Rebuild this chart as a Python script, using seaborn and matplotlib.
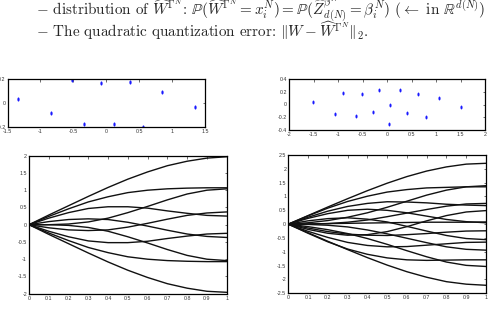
import matplotlib
matplotlib.use("Agg")
import matplotlib.pyplot as plt
import numpy as np
import pandas as pd
import seaborn as sns

# time grid of the paths
t_grid = [0.0, 0.1, 0.2, 0.3, 0.4, 0.5, 0.6, 0.7, 0.8, 0.9, 1.0]

# 10-point quantizer (top left)
quant10_x = [-1.34, -0.834, -0.524, -0.337, -0.079, 0.114, 0.362, 0.564, 0.853, 1.354]
quant10_y = [0.032, -0.079, 0.192, -0.175, 0.167, -0.17, 0.172, -0.195, 0.092, -0.035]

# 15-point quantizer (top right)
quant15_x = [-1.52, -1.065, -0.908, -0.636, -0.507, -0.288, -0.16, 0.053, 0.039,
             0.27, 0.40, 0.64, 0.796, 1.055, 1.517]
quant15_y = [0.039, -0.154, 0.175, -0.18, 0.16, -0.122, 0.235, 0.0, -0.306,
             0.232, -0.133, 0.165, -0.19, 0.102, -0.04]

# paths
paths10 = [
    [0, -0.28, -0.55, -0.82, -1.08, -1.32, -1.53, -1.71, -1.84, -1.93, -1.96],
    [0, -0.24, -0.46, -0.66, -0.81, -0.93, -1.00, -1.04, -1.06, -1.07, -1.07],
    [0, 0.00, -0.02, -0.08, -0.19, -0.35, -0.53, -0.72, -0.89, -1.00, -1.04],
    [0, -0.19, -0.35, -0.47, -0.52, -0.52, -0.48, -0.40, -0.33, -0.27, -0.25],
    [0, 0.09, 0.15, 0.17, 0.15, 0.07, -0.04, -0.16, -0.27, -0.34, -0.37],
    [0, -0.09, -0.15, -0.17, -0.15, -0.07, 0.04, 0.16, 0.27, 0.34, 0.37],
    [0, 0.19, 0.35, 0.47, 0.52, 0.52, 0.48, 0.40, 0.33, 0.27, 0.25],
    [0, 0.00, 0.02, 0.08, 0.19, 0.35, 0.53, 0.72, 0.89, 1.00, 1.04],
    [0, 0.24, 0.46, 0.66, 0.81, 0.93, 1.00, 1.04, 1.06, 1.07, 1.07],
    [0, 0.28, 0.55, 0.82, 1.08, 1.32, 1.53, 1.71, 1.84, 1.93, 1.97],
]

# paths
paths15 = [
    [0, -0.31, -0.62, -0.92, -1.21, -1.48, -1.72, -1.92, -2.08, -2.17, -2.21],
    [0, -0.33, -0.64, -0.90, -1.09, -1.22, -1.29, -1.31, -1.30, -1.29, -1.29],
    [0, -0.09, -0.20, -0.34, -0.52, -0.73, -0.96, -1.18, -1.37, -1.49, -1.53],
    [0, -0.26, -0.48, -0.66, -0.77, -0.82, -0.81, -0.76, -0.71, -0.66, -0.65],
    [0, -0.01, -0.04, -0.10, -0.21, -0.35, -0.51, -0.67, -0.82, -0.91, -0.94],
    [0, -0.14, -0.27, -0.36, -0.40, -0.41, -0.38, -0.34, -0.29, -0.25, -0.24],
    [0, 0.12, 0.20, 0.23, 0.18, 0.08, -0.08, -0.25, -0.41, -0.52, -0.56],
    [0, 0.01, 0.02, 0.03, 0.04, 0.05, 0.06, 0.07, 0.07, 0.07, 0.08],
    [0, -0.19, -0.33, -0.40, -0.38, -0.27, -0.09, 0.12, 0.31, 0.44, 0.49],
    [0, 0.21, 0.38, 0.50, 0.54, 0.50, 0.41, 0.29, 0.17, 0.09, 0.05],
    [0, 0.00, 0.02, 0.07, 0.15, 0.27, 0.40, 0.53, 0.65, 0.73, 0.75],
    [0, 0.25, 0.47, 0.64, 0.75, 0.81, 0.80, 0.77, 0.72, 0.69, 0.67],
    [0, 0.05, 0.13, 0.25, 0.41, 0.61, 0.83, 1.05, 1.23, 1.35, 1.39],
    [0, 0.30, 0.58, 0.82, 1.01, 1.16, 1.25, 1.31, 1.33, 1.35, 1.35],
    [0, 0.31, 0.62, 0.92, 1.21, 1.48, 1.72, 1.92, 2.07, 2.17, 2.20],
]

line1 = (r"$-$ distribution of $\widehat{W}^{\mathit{\Gamma}^N}$: "
         r"$\mathbb{P}(\widehat{W}^{\mathit{\Gamma}^N}=x_i^N)="
         r"\mathbb{P}(\widehat{Z}_{d(N)}^{\beta^N}=\beta_i^N)$ "
         r"($\leftarrow$ in $\mathbb{R}^{d(N)}$)")
line2 = (r"$-$ The quadratic quantization error: "
         r"$\Vert W-\widehat{W}^{\mathit{\Gamma}^N}\Vert_2$.")

# tall dot, as the points look in the picture
dot = [(np.cos(a) * 0.55, np.sin(a)) for a in np.linspace(0, 2 * np.pi, 17)]


def to_long(paths):
    rows = []
    for k, p in enumerate(paths):
        for t, w in zip(t_grid, p):
            rows.append({"curve": k, "t": t, "w": w})
    return pd.DataFrame(rows)


def matlab_axes(ax, xticks, yticks, xlim, ylim):
    ax.set_xlim(*xlim)
    ax.set_ylim(*ylim)
    ax.set_xticks(xticks)
    ax.set_yticks(yticks)
    ax.set_xticklabels([f"{v:g}" for v in xticks], family="Liberation Sans")
    ax.set_yticklabels([f"{v:g}" for v in yticks], family="Liberation Sans")
    ax.tick_params(direction="in", length=1.8, width=0.5, labelsize=3.8,
                   pad=1.5, top=True, right=True, colors="#333333")
    for s in ax.spines.values():
        s.set_linewidth(0.9)
        s.set_color("black")
        s.set_visible(True)
    ax.set_xlabel("")
    ax.set_ylabel("")


sns.set_style("white")
plt.rcParams["font.family"] = ["cmr10", "DejaVu Serif"]
plt.rcParams["mathtext.fontset"] = "cm"
plt.rcParams["axes.unicode_minus"] = False

W, H = 490, 311
fig = plt.figure(figsize=(W / 100, H / 100), dpi=100)


def add_ax(x0, y0, x1, y1):
    return fig.add_axes([x0 / W, 1 - y1 / H, (x1 - x0) / W, (y1 - y0) / H])


fig.text(36 / W, 1 - 16 / H, line1, fontsize=10.9, va="baseline", ha="left")
fig.text(36 / W, 1 - 37 / H, line2, fontsize=10.9, va="baseline", ha="left")

ax1 = add_ax(7.5, 79, 205, 127.3)
sns.scatterplot(x=quant10_x, y=quant10_y, ax=ax1, color="#1a1aff", marker=dot,
                s=9, linewidth=0)
matlab_axes(ax1, [-1.5, -1, -0.5, 0, 0.5, 1, 1.5], [-0.2, 0, 0.2],
            (-1.5, 1.5), (-0.2, 0.2))

ax2 = add_ax(289.3, 79, 485, 130)
sns.scatterplot(x=quant15_x, y=quant15_y, ax=ax2, color="#1a1aff", marker=dot,
                s=8, linewidth=0)
matlab_axes(ax2, [-2, -1.5, -1, -0.5, 0, 0.5, 1, 1.5, 2],
            [-0.4, -0.2, 0, 0.2, 0.4], (-2, 2), (-0.4, 0.4))

ax3 = add_ax(29, 155.7, 226.7, 293.7)
sns.lineplot(data=to_long(paths10), x="t", y="w", units="curve", estimator=None,
             color="#111111", linewidth=1.0, ax=ax3)
matlab_axes(ax3, [0, 0.1, 0.2, 0.3, 0.4, 0.5, 0.6, 0.7, 0.8, 0.9, 1],
            [-2, -1.5, -1, -0.5, 0, 0.5, 1, 1.5, 2], (0, 1), (-2, 2))

ax4 = add_ax(288.3, 155, 486, 293.3)
sns.lineplot(data=to_long(paths15), x="t", y="w", units="curve", estimator=None,
             color="#111111", linewidth=1.0, ax=ax4)
matlab_axes(ax4, [0, 0.1, 0.2, 0.3, 0.4, 0.5, 0.6, 0.7, 0.8, 0.9, 1],
            [-2.5, -2, -1.5, -1, -0.5, 0, 0.5, 1, 1.5, 2, 2.5], (0, 1), (-2.5, 2.5))

fig.savefig("out.png", dpi=100)
